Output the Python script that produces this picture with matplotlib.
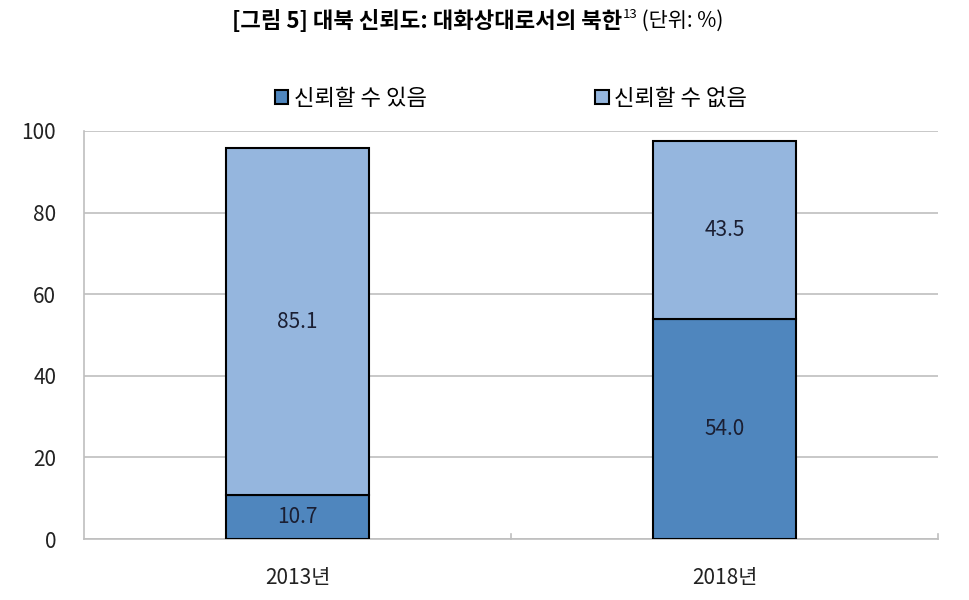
import matplotlib
matplotlib.use("Agg")
import matplotlib.pyplot as plt
from matplotlib.patches import Patch
import numpy as np

plt.rcParams['font.family'] = ['Noto Sans CJK KR', 'DejaVu Sans']

years = ['2013년', '2018년']
trust = [10.7, 54.0]
distrust = [85.1, 43.5]
series_names = ['신뢰할 수 있음', '신뢰할 수 없음']
colors = ['#4F86BE', '#95B6DE']
grid_col = '#BFBFBF'

fig = plt.figure(figsize=(9.7, 6.0), dpi=100)
ax = fig.add_axes([84 / 970, 1 - 539 / 600, 854 / 970, 408 / 600])

x = np.arange(len(years))
b1 = ax.bar(x, trust, width=0.333, color=colors[0], edgecolor='black', linewidth=1.5, zorder=3)
b2 = ax.bar(x, distrust, width=0.333, bottom=trust, color=colors[1], edgecolor='black', linewidth=1.5, zorder=3)

for bars, vals, bottoms in [(b1, trust, [0, 0]), (b2, distrust, trust)]:
    for rect, v, b in zip(bars, vals, bottoms):
        ax.text(rect.get_x() + rect.get_width() / 2, b + v / 2, f'{v:.1f}',
                ha='center', va='center', fontsize=15, color='#1b1f33', zorder=4)

ax.set_xlim(-0.5, 1.5)
ax.set_ylim(0, 100)
ax.set_yticks(range(0, 101, 20))
ax.set_xticks(x)
ax.set_xticklabels(years)
ax.tick_params(axis='both', length=0, labelsize=15, colors='#222222')
ax.tick_params(axis='x', pad=20)
ax.tick_params(axis='y', pad=20)
ax.yaxis.grid(True, color=grid_col, linewidth=1.2, zorder=0)
ax.set_axisbelow(True)
for s in ['top', 'right']:
    ax.spines[s].set_visible(False)
for s in ['left', 'bottom']:
    ax.spines[s].set_color(grid_col)
    ax.spines[s].set_linewidth(1.2)
# category boundary ticks like Excel
for xb in [0.5, 1.5]:
    ax.plot([xb, xb], [0, 1.2], color=grid_col, linewidth=1.2, clip_on=False, zorder=1)

handles = [Patch(facecolor=c, edgecolor='black', linewidth=1.5) for c in colors]
ax.legend(handles, series_names, loc='center', bbox_to_anchor=(0.5, 1.08), ncol=2,
          frameon=False, fontsize=16, handlelength=0.6, handleheight=0.6,
          handletextpad=0.25, columnspacing=7.6)

# title: bold part + superscript + normal unit
fig.canvas.draw()
r = fig.canvas.get_renderer()
t1 = fig.text(0.5, 1 - 21 / 600, '[그림 5] 대북 신뢰도: 대화상대로서의 북한', fontsize=16,
              fontweight='bold', ha='left', va='center')
t2 = fig.text(0.5, 1 - 15 / 600, '13', fontsize=9.5, ha='left', va='center')
t3 = fig.text(0.5, 1 - 21 / 600, ' (단위: %)', fontsize=15, ha='left', va='center')
w1 = t1.get_window_extent(r).width
w2 = t2.get_window_extent(r).width
w3 = t3.get_window_extent(r).width
start = 478 - (w1 + w2 + w3) / 2
t1.set_x(start / 970)
t2.set_x((start + w1) / 970)
t3.set_x((start + w1 + w2) / 970)

fig.savefig('out.png', dpi=100)
